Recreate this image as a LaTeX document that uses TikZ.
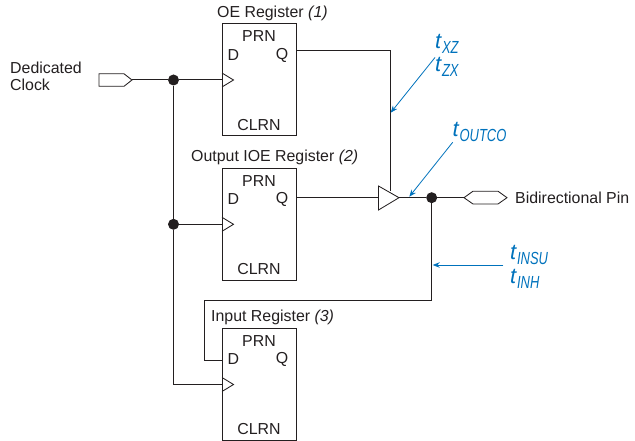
\documentclass[tikz,border=0pt]{standalone}
\usepackage{fontspec}
\setmainfont{Liberation Sans}
\usetikzlibrary{arrows.meta,calc}
\definecolor{ink}{HTML}{231F20}
\definecolor{tblue}{HTML}{0072BC}
\newcommand{\tsub}[2]{\textit{\fontsize{22}{22}\selectfont #1}\raisebox{-4.5pt}{\scalebox{0.74}[1]{\textit{\fontsize{17.5}{17.5}\selectfont #2}}}}
\tikzset{
  wire/.style={draw=ink,line width=1pt},
  pinline/.style={draw=ink,line width=0.85pt},
  reg/.style={draw=ink,line width=1pt,minimum width=74pt,minimum height=112pt,inner sep=0pt,outer sep=0pt,anchor=north west},
  lbl/.style={text=ink,font=\fontsize{15.9}{15.9}\selectfont,inner sep=0pt},
  junction/.style={circle,fill=ink,minimum size=11pt,inner sep=0pt},
  timing/.style={text=tblue,inner sep=0pt,anchor=west},
  callout/.style={draw=tblue,line width=0.8pt,-{Stealth[length=7pt,width=5.5pt]}},
}
\begin{document}
\begin{tikzpicture}[x=1pt,y=-1pt]
\useasboundingbox (0,0) rectangle (635,441);
% registers
\node[reg] (r1) at (222,24) {};
\node[reg] (r2) at (222,168.3) {};
\node[reg] (r3) at (222,328.5) {};
\foreach \rn/\ty in {r1/24,r2/168.3,r3/328.5}{
  \node[lbl] (\rn prn) at (259,\ty+12.5) {PRN};
  \node[lbl] (\rn d) at (233.3,\ty+31) {D};
  \node[lbl] (\rn q) at (282,\ty+31) {Q};
  \node[lbl] (\rn clrn) at (259,\ty+101) {CLRN};
  \draw[pinline] (222,\ty+49) -- (233.5,\ty+56) -- (222,\ty+63);
}
\coordinate (r1ck) at (222,80);
\coordinate (r2ck) at (222,224.3);
\coordinate (r3ck) at (222,384.5);
\coordinate (r1qo) at (296,51);
\coordinate (r2qo) at (296,198);
\coordinate (r3di) at (222,360);
\node[lbl,anchor=west] (t1) at (217,13) {OE Register \textit{(1)}};
\node[lbl,anchor=west] (t2) at (191,157) {Output IOE Register \textit{(2)}};
\node[lbl,anchor=west] (t3) at (211,317) {Input Register \textit{(3)}};
% text
\node[lbl,anchor=west,align=left,font=\fontsize{15.9}{17}\selectfont] (clk) at (10,76.5) {Dedicated\\Clock};
\node[lbl,anchor=west] (bid) at (515,197.5) {Bidirectional Pin};
% pins
\coordinate (ckin) at (132,80);
\draw[pinline] (99,73.8) -- (124,73.8) -- (ckin) -- (124,86.3) -- (99,86.3) -- cycle;
\coordinate (pin) at (464,197.7);
\draw[pinline] (pin) -- (473,191.2) -- (498,191.2) -- (507,197.7) -- (498,204) -- (473,204) -- cycle;
% buffer
\coordinate (bufin) at (378.5,198);
\coordinate (bufout) at (399,197.7);
\coordinate (bufen) at (390,191);
\draw[pinline] (378.5,186) -- (bufout) -- (378.5,210) -- cycle;
% junctions
\node[junction] (j1) at (173.5,80) {};
\node[junction] (j2) at (173.5,224.3) {};
\node[junction] (j3) at (431.7,197.7) {};
% wires
\draw[wire] (ckin) -- (j1) -- (r1ck);
\draw[wire] (j1) -- (j2) -- (r2ck);
\draw[wire] (j2) |- (r3ck);
\draw[wire] (r1qo) -- (390,51) -- (bufen);
\draw[wire] (r2qo) -- (bufin);
\draw[wire] (bufout) -- (j3) -- (pin);
\draw[wire] (j3) -- (431.7,300.5) -- (204,300.5) -- (204,360) -- (r3di);
% timing labels
\node[timing] (txz) at (435,44) {\tsub{t}{XZ}};
\node[timing] (tzx) at (435,67) {\tsub{t}{ZX}};
\node[timing] (toutco) at (452.5,132) {\tsub{t}{OUTCO}};
\node[timing] (tinsu) at (510,255) {\tsub{t}{INSU}};
\node[timing] (tinh) at (510,279) {\tsub{t}{INH}};
\coordinate (a1) at (435,57.5);
\coordinate (a1e) at (390.7,112.7);
\coordinate (a2) at (452.7,142.3);
\coordinate (a2e) at (409.3,196.7);
\coordinate (a3) at (503.3,265);
\coordinate (a3e) at (432.7,265);
\draw[callout] (a1) -- (a1e);
\draw[callout] (a2) -- (a2e);
\draw[callout] (a3) -- (a3e);
\end{tikzpicture}
\end{document}
